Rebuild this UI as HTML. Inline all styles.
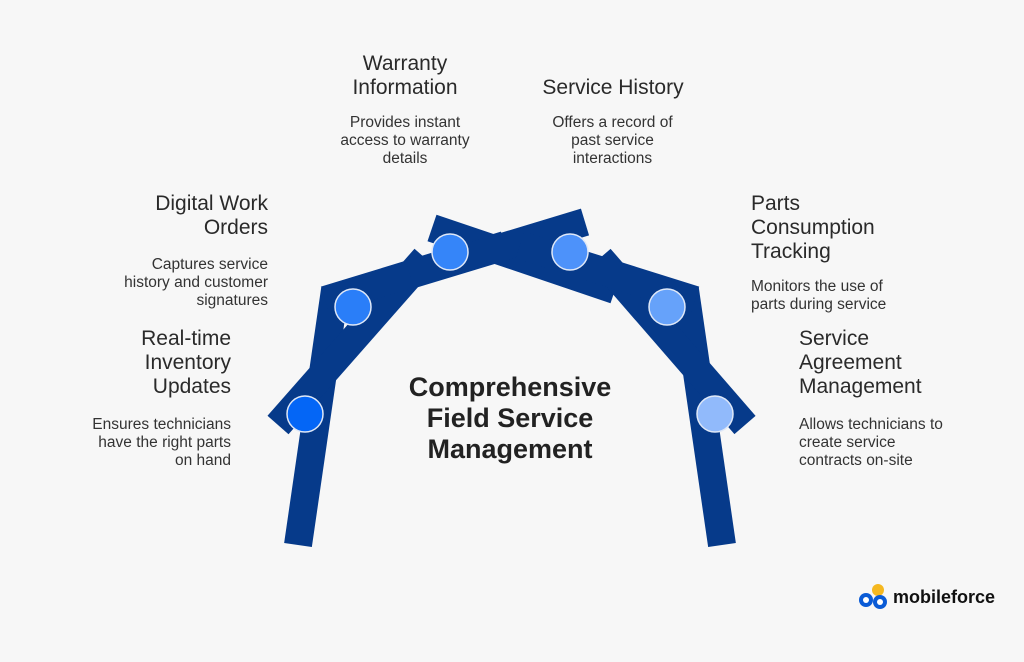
<!DOCTYPE html>
<html><head><style>
body{margin:0;width:1024px;height:662px;background:#f7f7f7;font-family:"Liberation Sans",sans-serif;color:#222;position:relative;overflow:hidden}
.t{position:absolute;font-size:21px;line-height:24px;color:#2a2a2a}
.d{position:absolute;font-size:15.5px;line-height:18px;color:#333}
.r{text-align:right}.c{text-align:center}
</style></head><body>
<svg width="1024" height="662" style="position:absolute;left:0;top:0">
<g stroke="#063a8a" stroke-width="28" fill="none" stroke-linecap="butt">
<line x1="298" y1="545" x2="335" y2="290"/>
<line x1="278" y1="425" x2="425" y2="258"/>
<line x1="325" y1="300" x2="505" y2="245"/>
<line x1="432" y1="228" x2="615" y2="290"/>
<line x1="585" y1="222" x2="410" y2="275"/>
<line x1="722" y1="545" x2="685" y2="290"/>
<line x1="745" y1="425" x2="600" y2="258"/>
<line x1="695" y1="300" x2="520" y2="245"/>
</g>
<g stroke="#dfe8f7" stroke-width="1.5">
<circle cx="305" cy="414" r="18" fill="#0466f6"/>
<circle cx="353" cy="307" r="18" fill="#2a7ef8"/>
<circle cx="450" cy="252" r="18" fill="#3585f9"/>
<circle cx="570" cy="252" r="18" fill="#4d92fa"/>
<circle cx="667" cy="307" r="18" fill="#66a2fa"/>
<circle cx="715" cy="414" r="18" fill="#91bafb"/>
</g>
<g transform="translate(860,584)">
<circle cx="18" cy="6" r="6" fill="#f5b820"/>
<circle cx="6" cy="16" r="7" fill="#0a5bd6"/><circle cx="20" cy="18" r="7" fill="#0a5bd6"/>
<circle cx="6" cy="16" r="3" fill="#fff"/><circle cx="20" cy="18" r="3" fill="#fff"/>
</g>
</svg>
<div class="t c" style="left:320px;top:52px;width:170px">Warranty<br>Information</div>
<div class="d c" style="left:320px;top:114px;width:170px">Provides instant<br>access to warranty<br>details</div>
<div class="t c" style="left:518px;top:76px;width:190px">Service History</div>
<div class="d c" style="left:520px;top:114px;width:185px">Offers a record of<br>past service<br>interactions</div>
<div class="t r" style="left:90px;top:192px;width:178px">Digital Work<br>Orders</div>
<div class="d r" style="left:70px;top:256px;width:198px">Captures service<br>history and customer<br>signatures</div>
<div class="t r" style="left:70px;top:327px;width:161px">Real-time<br>Inventory<br>Updates</div>
<div class="d r" style="left:40px;top:416px;width:191px">Ensures technicians<br>have the right parts<br>on hand</div>
<div class="t" style="left:751px;top:192px;width:200px">Parts<br>Consumption<br>Tracking</div>
<div class="d" style="left:751px;top:278px;width:200px">Monitors the use of<br>parts during service</div>
<div class="t" style="left:799px;top:327px;width:200px">Service<br>Agreement<br>Management</div>
<div class="d" style="left:799px;top:416px;width:210px">Allows technicians to<br>create service<br>contracts on-site</div>
<div class="c" style="position:absolute;left:375px;top:372px;width:270px;font-size:27px;line-height:31px;font-weight:bold;color:#222">Comprehensive<br>Field Service<br>Management</div>
<div style="position:absolute;left:893px;top:587px;font-size:18px;font-weight:bold;color:#111">mobileforce</div>
</body></html>
